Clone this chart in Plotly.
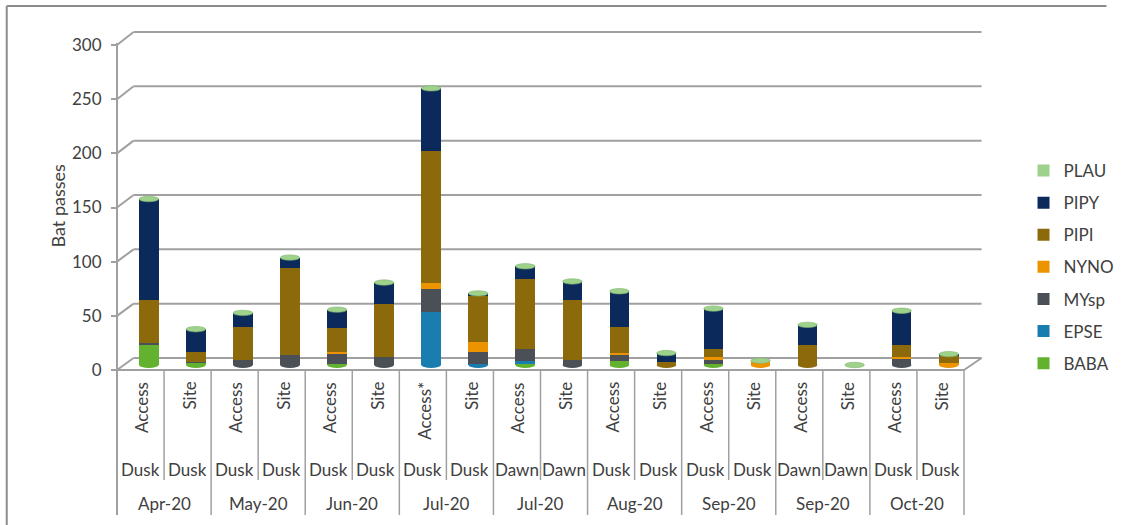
import plotly.graph_objects as go

# ---------------- data ----------------
sites = ["Access", "Site", "Access", "Site", "Access", "Site", "Access*", "Site", "Access",
         "Site", "Access", "Site", "Access", "Site", "Access", "Site", "Access", "Site"]
times = ["Dusk", "Dusk", "Dusk", "Dusk", "Dusk", "Dusk", "Dusk", "Dusk", "Dawn",
         "Dawn", "Dusk", "Dusk", "Dusk", "Dusk", "Dawn", "Dawn", "Dusk", "Dusk"]
months = ["Apr-20", "May-20", "Jun-20", "Jul-20", "Jul-20", "Aug-20", "Sep-20", "Sep-20", "Oct-20"]

BABA = [19, 2, 0, 0, 1, 0, 0, 0, 1, 0, 4, 0, 1, 0, 0, 0, 0, 0]
EPSE = [0, 0, 0, 0, 0, 0, 49, 1, 3, 0, 0, 0, 0, 0, 0, 0, 0, 0]
MYsp = [1, 1, 5, 9, 9, 7, 21, 11, 11, 5, 6, 0, 4, 0, 0, 0, 6, 0]
NYNO = [0, 0, 0, 0, 2, 0, 6, 9, 0, 0, 1, 0, 2, 4, 0, 0, 1, 2]
PIPI = [40, 9, 30, 80, 22, 49, 121, 43, 64, 55, 24, 3, 8, 0, 18, 0, 11, 6]
PIPY = [93, 21, 13, 10, 17, 20, 58, 2, 12, 17, 33, 8, 37, 0, 19, 0, 32, 2]
PLAU = [0] * 18

series = [("BABA", BABA, "#62b22f"), ("EPSE", EPSE, "#1a7db0"), ("MYsp", MYsp, "#4b5056"),
          ("NYNO", NYNO, "#ec9300"), ("PIPI", PIPI, "#8c6a0c"), ("PIPY", PIPY, "#0b2a5b"),
          ("PLAU", PLAU, "#9ed28c")]

y_ticks = [0, 50, 100, 150, 200, 250, 300]

# ---------------- geometry (pixels) ----------------
W, H = 1131, 525
L, R = 117, 985          # plot area x
T, B = 30, 372           # plot area y
n = len(sites)
cw = (R - L) / n
bar_off = 0.176
bar_w = 0.415
FONT = "Lato"
TXT = "#404040"
GRID = "#a0a0a0"

def xp(px):
    return (px - L) / (R - L)

def yp(py):
    return (B - py) / (B - T)

# bar axis: 0 at 365 px, 1.085 px/unit
b_r0 = -(B - 365) / 1.085
b_r1 = b_r0 + (B - T) / 1.085
# front label axis: 0 at 370, 300 at 45
f_s = (370 - 45) / 300
f_r0 = -(B - 370) / f_s
f_r1 = f_r0 + (B - T) / f_s
# back wall
bk_s = (358 - 32) / 300

fig = go.Figure()
xs = [i + 0.5 + bar_off for i in range(n)]
ns = len(series)
for k, (name, vals, col) in enumerate(series):
    fig.add_trace(go.Bar(x=xs, y=vals, name=name, marker=dict(color=col, line=dict(width=0)),
                         width=bar_w, legendgroup=name, legendrank=ns - k, showlegend=True))

shapes = []
# border
shapes.append(dict(type="line", xref="paper", yref="paper", x0=xp(4), x1=xp(1131), y0=yp(6), y1=yp(6),
                   line=dict(color="#8c8c8c", width=2)))
shapes.append(dict(type="line", xref="paper", yref="paper", x0=xp(4), x1=xp(4), y0=yp(6), y1=yp(525),
                   line=dict(color="#8c8c8c", width=2)))
# gridlines (back wall + left diagonal)
for v in y_ticks:
    yf = 370 - v * f_s
    yb = 358 - v * bk_s
    shapes.append(dict(type="line", xref="paper", yref="paper", x0=xp(L), x1=xp(134), y0=yp(yf), y1=yp(yb),
                       line=dict(color=GRID, width=2), layer="below"))
    shapes.append(dict(type="line", xref="paper", yref="paper", x0=xp(134), x1=xp(1003), y0=yp(yb), y1=yp(yb),
                       line=dict(color=GRID, width=2), layer="below"))
# floor front + right diagonal
shapes.append(dict(type="line", xref="paper", yref="paper", x0=xp(L), x1=xp(R), y0=yp(370), y1=yp(370),
                   line=dict(color=GRID, width=2), layer="below"))
shapes.append(dict(type="line", xref="paper", yref="paper", x0=xp(R), x1=xp(1003), y0=yp(370), y1=yp(358),
                   line=dict(color=GRID, width=2), layer="below"))
# front axis line
shapes.append(dict(type="line", xref="paper", yref="paper", x0=xp(L), x1=xp(L), y0=yp(43), y1=yp(515),
                   line=dict(color=GRID, width=2)))
# category dividers
for k in range(1, n + 1):
    x = L + k * cw
    yend = 515 if k % 2 == 0 else 480
    shapes.append(dict(type="line", xref="paper", yref="paper", x0=xp(x), x1=xp(x), y0=yp(370), y1=yp(yend),
                       line=dict(color=GRID, width=1.5)))

# cylinder bottoms and caps
totals = [sum(s[1][i] for s in series) for i in range(n)]
for i in range(n):
    bottom_col = None
    for name, vals, col in series:
        if vals[i] > 0:
            bottom_col = col
            break
    if bottom_col:
        shapes.append(dict(type="circle", xref="x", yref="y", x0=xs[i] - bar_w / 2, x1=xs[i] + bar_w / 2,
                           ysizemode="pixel", yanchor=0, y0=-3, y1=3, fillcolor=bottom_col,
                           line=dict(width=0), layer="below"))
    shapes.append(dict(type="circle", xref="x", yref="y", x0=xs[i] - bar_w / 2, x1=xs[i] + bar_w / 2,
                       ysizemode="pixel", yanchor=totals[i], y0=-2.7, y1=2.7, fillcolor="#9ed28c",
                       line=dict(width=0.6, color="#7fb56c")))

annotations = []
for i in range(n):
    cx = L + (i + 0.5) * cw
    annotations.append(dict(text=sites[i], xref="paper", yref="paper", x=xp(cx + 1), y=yp(380),
                            xanchor="center", yanchor="top", textangle=-90, showarrow=False,
                            font=dict(family=FONT, size=17, color=TXT)))
    annotations.append(dict(text=times[i], xref="paper", yref="paper", x=xp(cx), y=yp(469),
                            xanchor="center", yanchor="middle", showarrow=False,
                            font=dict(family=FONT, size=17, color=TXT)))
for m, name in enumerate(months):
    cx = L + (2 * m + 1) * cw
    annotations.append(dict(text=name, xref="paper", yref="paper", x=xp(cx), y=yp(503),
                            xanchor="center", yanchor="middle", showarrow=False,
                            font=dict(family=FONT, size=17, color=TXT)))
annotations.append(dict(text="Bat passes", xref="paper", yref="paper", x=xp(57), y=yp(205),
                        xanchor="center", yanchor="middle", textangle=-90, showarrow=False,
                        font=dict(family=FONT, size=18, color=TXT)))

fig.update_layout(
    width=W, height=H,
    margin=dict(l=L, r=W - R, t=T, b=H - B),
    paper_bgcolor="white", plot_bgcolor="rgba(0,0,0,0)",
    barmode="stack", bargap=0,
    showlegend=True,
    legend=dict(x=xp(1046), xanchor="left", y=yp(267), yanchor="middle",
                traceorder="grouped", tracegroupgap=7,
                font=dict(family=FONT, size=17, color=TXT), bgcolor="rgba(0,0,0,0)"),
    xaxis=dict(range=[0, n], showgrid=False, zeroline=False, showticklabels=False, ticks="", showline=False,
               fixedrange=True),
    yaxis=dict(range=[b_r0, b_r1], showgrid=False, zeroline=False, showticklabels=False, ticks="",
               showline=False),
    yaxis2=dict(range=[f_r0, f_r1], overlaying="y", side="left", tickvals=y_ticks,
                showgrid=False, zeroline=False, showline=False, ticks="outside", ticklen=5,
                tickcolor=GRID, tickwidth=2, ticklabelstandoff=6,
                tickfont=dict(family=FONT, size=17, color=TXT)),
    shapes=shapes, annotations=annotations,
)
# attach an invisible trace to yaxis2 so it renders
fig.add_trace(go.Scatter(x=[0], y=[0], yaxis="y2", mode="markers", marker=dict(opacity=0),
                         showlegend=False, hoverinfo="skip"))

fig.write_html("out.html")
